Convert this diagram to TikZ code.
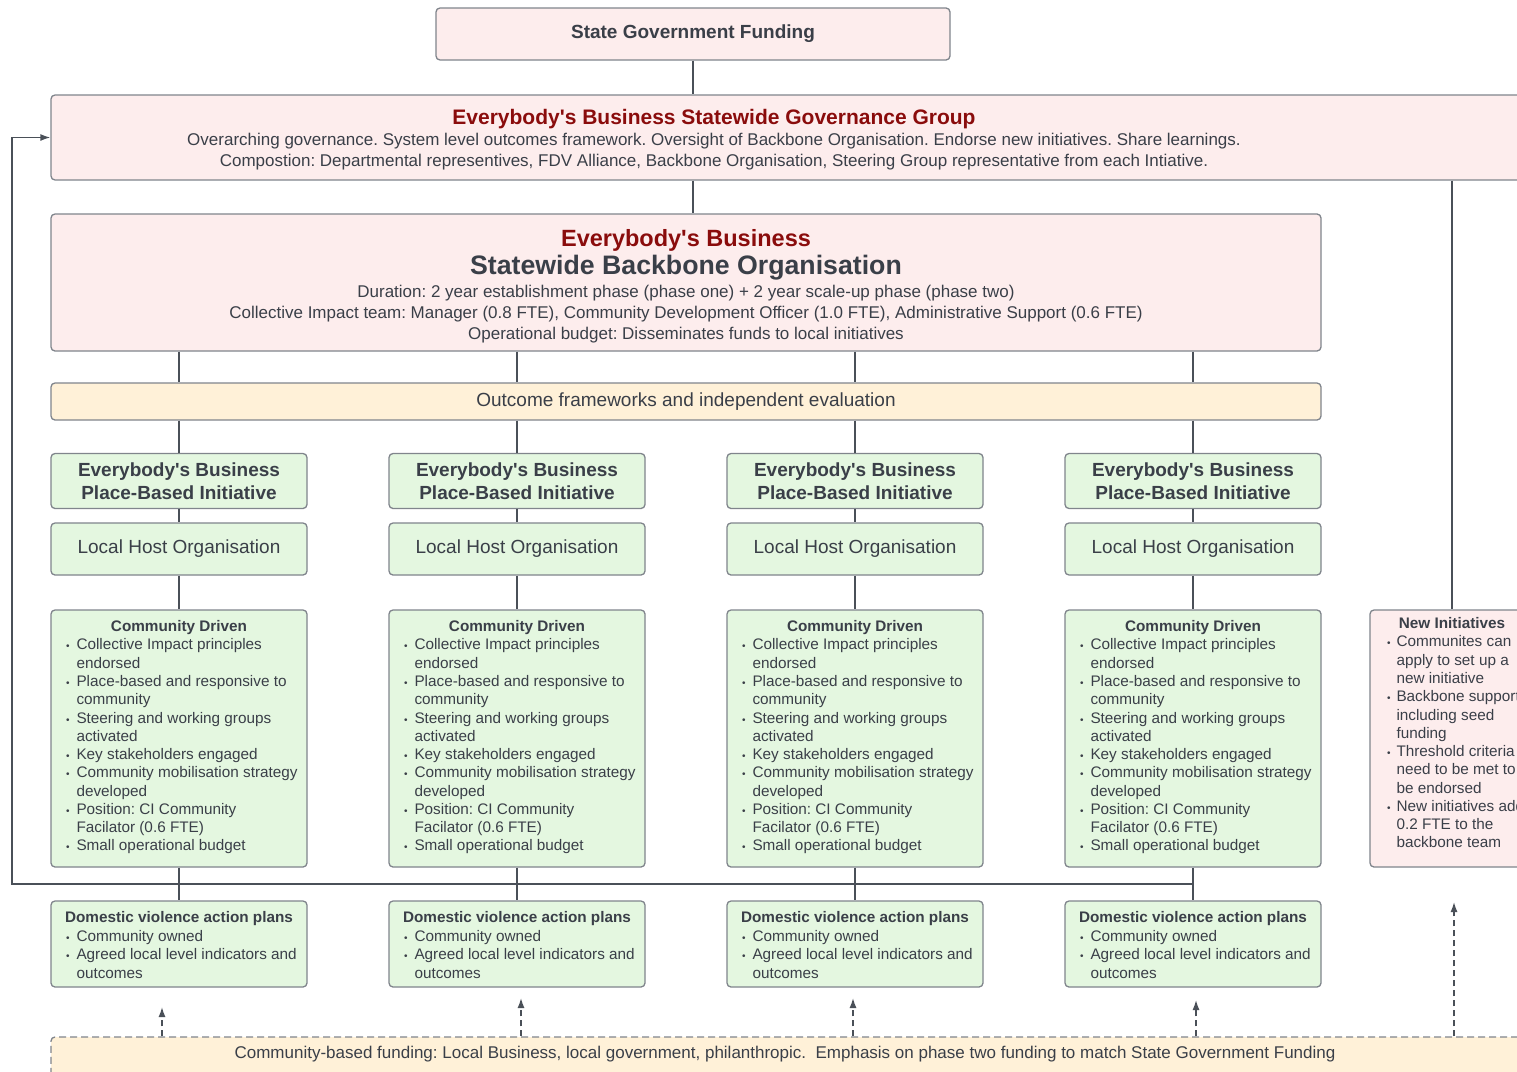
\documentclass[tikz,border=0pt]{standalone}
\usepackage{fontspec}
\setmainfont{Liberation Sans}
\usetikzlibrary{arrows.meta}
\frenchspacing
\definecolor{pinkfill}{HTML}{FDEDED}
\definecolor{greenfill}{HTML}{E4F7E0}
\definecolor{yellowfill}{HTML}{FFF1D8}
\definecolor{boxline}{HTML}{80858C}
\definecolor{connline}{HTML}{4A5058}
\definecolor{darkred}{HTML}{8A0C0C}
\definecolor{txt}{HTML}{3A3F48}
\newcommand\apos{\textquotesingle}
\newcommand\fs[2]{\fontsize{#1}{#2}\selectfont}
\newcommand\bul{{\fontsize{10}{10}\selectfont\textbullet}}
\newcommand\cdcontent{\parbox{226pt}{\fs{15.3}{18.27}\frenchspacing
\noindent\makebox[\linewidth]{\bfseries Community Driven}\par
\noindent\begin{tabular}[t]{@{}l@{\hspace{7pt}}l@{}}
\bul & Collective Impact principles\\
 & endorsed\\
\bul & Place-based and responsive to\\
 & community\\
\bul & Steering and working groups\\
 & activated\\
\bul & Key stakeholders engaged\\
\bul & Community mobilisation strategy\\
 & developed\\
\bul & Position: CI Community\\
 & Facilator (0.6 FTE)\\
\bul & Small operational budget
\end{tabular}}}
\newcommand\dvcontent{\parbox{226pt}{\vspace*{7pt}\fs{15.3}{18.5}\frenchspacing
\noindent\makebox[\linewidth]{\bfseries Domestic violence action plans}\par
\noindent\begin{tabular}[t]{@{}l@{\hspace{7pt}}l@{}}
\bul & Community owned\\
\bul & Agreed local level indicators and\\
 & outcomes
\end{tabular}}}
\newcommand\nicontent{\parbox{130pt}{\fs{15.3}{18.27}\frenchspacing
\noindent\makebox[\linewidth]{\bfseries New Initiatives}\par
\noindent\begin{tabular}[t]{@{}l@{\hspace{6pt}}l@{}}
\bul & Communites can\\
 & apply to set up a\\
 & new initiative\\
\bul & Backbone support\\
 & including seed\\
 & funding\\
\bul & Threshold criteria\\
 & need to be met to\\
 & be endorsed\\
\bul & New initiatives add\\
 & 0.2 FTE to the\\
 & backbone team
\end{tabular}\par\vspace{6pt}}}
\tikzset{
 box/.style={draw=boxline, line width=1.3pt, rounded corners=4pt, inner sep=0pt, text=txt, align=center},
 pinkbox/.style={box, fill=pinkfill},
 greenbox/.style={box, fill=greenfill},
 yellowbox/.style={box, fill=yellowfill},
 conn/.style={draw=connline, line width=1.4pt},
 dasharrow/.style={draw=connline, line width=1.4pt, dash pattern=on 6pt off 4pt, -{Latex[length=10pt,width=7pt]}},
 plaintext/.style={text=txt, align=center, inner sep=0pt},
}
\begin{document}
\begin{tikzpicture}[x=1pt,y=-1pt]
\useasboundingbox (0,0) rectangle (1517,1071);
\clip (0,0) rectangle (1517,1071);
\fill[white] (0,0) rectangle (1517,1071);
% top
\node[pinkbox, minimum width=514pt, minimum height=52pt, font={\fs{19}{22}\bfseries}] (sgf) at (693,34) {State Government Funding};
\node[pinkbox, minimum width=1570pt, minimum height=85pt] (gov) at (836,137.5) {};
\node[plaintext] (govtxt) at (714,140) {\parbox{1300pt}{\centering\frenchspacing
\fs{21}{23}{\bfseries\color{darkred}Everybody\apos s Business Statewide Governance Group}\par
\fs{17}{21}Overarching governance. System level outcomes framework. Oversight of Backbone Organisation. Endorse new initiatives. Share learnings.\par
Compostion: Departmental representives, FDV Alliance, Backbone Organisation, Steering Group representative from each Intiative.\par}};
\node[pinkbox, minimum width=1270pt, minimum height=137pt] (bb) at (686,282.5) {\parbox{1250pt}{\centering\frenchspacing
\vspace*{7pt}%
\fs{23.5}{27}{\bfseries\color{darkred}Everybody\apos s Business}\par
\fs{26.7}{28}{\bfseries Statewide Backbone Organisation}\par
\fs{17}{22.5}Duration: 2 year establishment phase (phase one) + 2 year scale-up phase (phase two)\par
\fs{17}{21}Collective Impact team: Manager (0.8 FTE), Community Development Officer (1.0 FTE), Administrative Support (0.6 FTE)\par
Operational budget: Disseminates funds to local initiatives\par}};
\node[yellowbox, minimum width=1270pt, minimum height=37pt, font={\fs{19}{22}}] (out) at (686,401.5) {Outcome frameworks and independent evaluation};
\draw[conn] (sgf.south) -- (gov.north -| sgf.south);
\draw[conn] (gov.south -| sgf.south) -- (bb.north -| sgf.south);
% columns
\foreach \i/\x in {1/179,2/517,3/855,4/1193}{
 \node[greenbox, minimum width=256pt, minimum height=55pt, font={\fs{19}{23}\bfseries}] (pbi\i) at (\x,481) {Everybody\apos s Business\\Place-Based Initiative};
 \node[greenbox, minimum width=256pt, minimum height=52pt, font={\fs{19}{22}}] (lho\i) at (\x,549) {Local Host Organisation};
 \node[greenbox, minimum width=256pt, minimum height=257pt] (cd\i) at (\x,738.5) {\cdcontent};
 \node[greenbox, minimum width=256pt, minimum height=86pt] (dv\i) at (\x,944) {\dvcontent};
 \draw[conn] (bb.south -| pbi\i.north) -- (out.north -| pbi\i.north);
 \draw[conn] (out.south -| pbi\i.north) -- (pbi\i.north);
 \draw[conn] (pbi\i) -- (lho\i);
 \draw[conn] (lho\i) -- (cd\i);
 \draw[conn] (cd\i) -- (dv\i);
}
% new initiatives
\node[pinkbox, minimum width=164pt, minimum height=257pt] (ni) at (1452,738.5) {\nicontent};
\draw[conn] (gov.south -| ni.north) -- (ni.north);
% feedback loop
\coordinate (fb) at (12,884);
\draw[conn, -{Latex[length=10pt,width=7pt]}] (cd4.south |- fb) -- (fb) |- (gov.west);
% community funding
\node[yellowbox, dashed, dash pattern=on 7pt off 4pt, minimum width=1570pt, minimum height=73pt] (fund) at (836,1073.5) {};
\node[plaintext, font={\fs{17}{20}}] (fundtxt) at (785,1054) {Community-based funding: Local Business, local government, philanthropic.\ \ Emphasis on phase two funding to match State Government Funding};
\coordinate (a1) at (162,1007);
\coordinate (a2) at (521,998);
\coordinate (a3) at (853,998);
\coordinate (a4) at (1196,1000);
\coordinate (a5) at (1454,902);
\foreach \a in {a1,a2,a3,a4,a5}{
 \draw[dasharrow] (fund.north -| \a) -- (\a);
}
\end{tikzpicture}
\end{document}
